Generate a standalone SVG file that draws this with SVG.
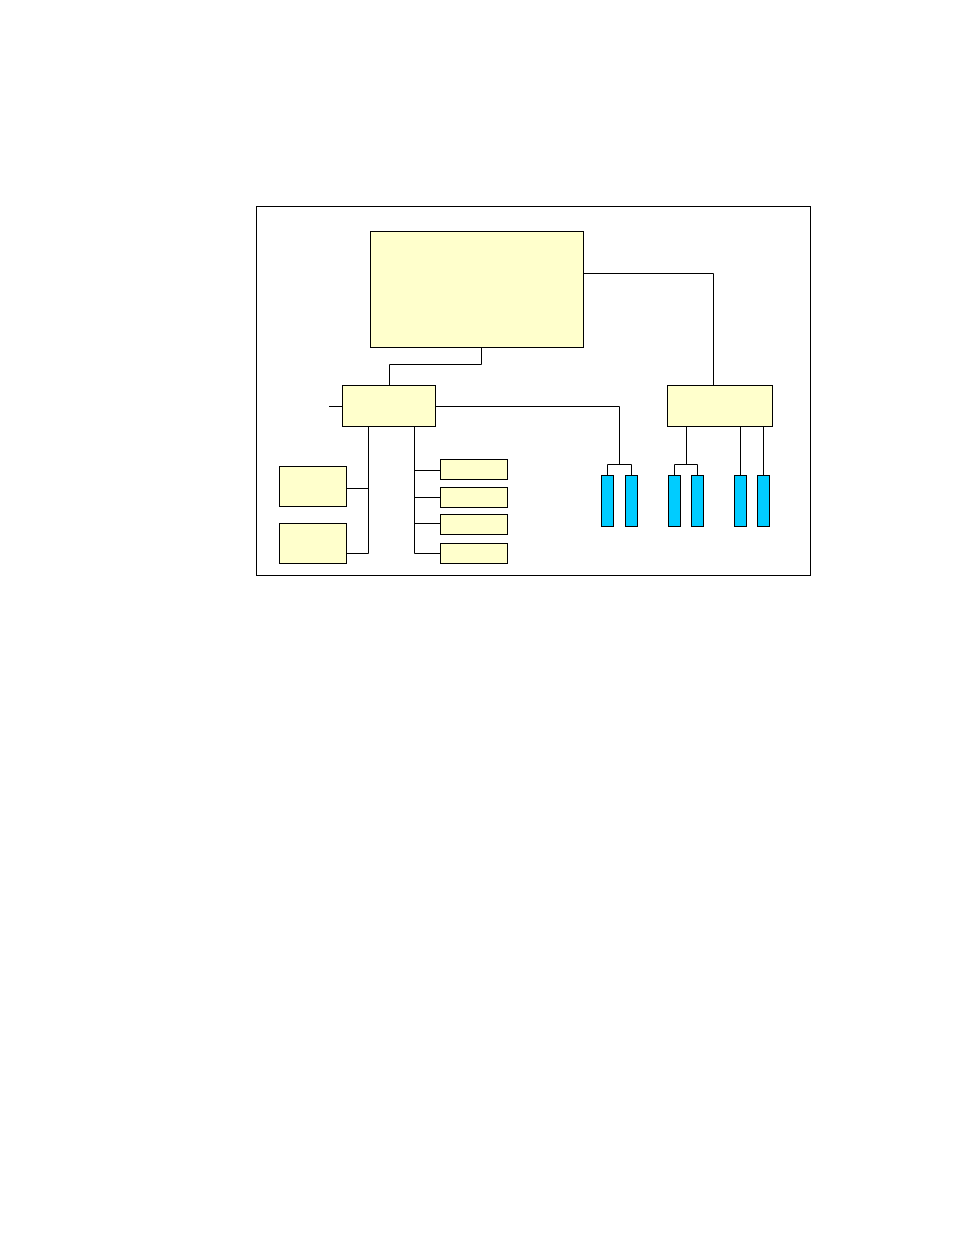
<svg xmlns="http://www.w3.org/2000/svg" width="954" height="1235" viewBox="0 0 954 1235">
<style>
.y{fill:#FFFFCC;stroke:#000;stroke-width:1}
.b{fill:#00CCFF;stroke:#000;stroke-width:1}
.c{fill:none;stroke:#000;stroke-width:1}
</style>
<rect width="954" height="1235" fill="#fff"/>
<rect id="frame" x="256.5" y="206.5" width="554" height="369" fill="none" stroke="#000" stroke-width="1"/>
<g id="connectors" class="c">
<polyline points="583,273.5 713.5,273.5 713.5,385"/>
<polyline points="481.5,347 481.5,364.5 389.5,364.5 389.5,385"/>
<line x1="329" y1="406.5" x2="342" y2="406.5"/>
<polyline points="435,406.5 619.5,406.5 619.5,464.5"/>
<polyline points="607.5,475 607.5,464.5 631.5,464.5 631.5,475"/>
<polyline points="368.5,426 368.5,553.5 346,553.5"/>
<line x1="346" y1="488.5" x2="368.5" y2="488.5"/>
<polyline points="414.5,426 414.5,553.5 440,553.5"/>
<line x1="414.5" y1="470.5" x2="440" y2="470.5"/>
<line x1="414.5" y1="497.5" x2="440" y2="497.5"/>
<line x1="414.5" y1="523.5" x2="440" y2="523.5"/>
<line x1="686.5" y1="426" x2="686.5" y2="464.5"/>
<polyline points="674.5,475 674.5,464.5 697.5,464.5 697.5,475"/>
<line x1="740.5" y1="426" x2="740.5" y2="475"/>
<line x1="763.5" y1="426" x2="763.5" y2="475"/>
</g>
<g id="main"><rect class="y" x="370.5" y="231.5" width="213" height="116"/></g>
<g id="hub"><rect class="y" x="342.5" y="385.5" width="93" height="41"/></g>
<g id="right-hub"><rect class="y" x="667.5" y="385.5" width="105" height="41"/></g>
<g id="left1"><rect class="y" x="279.5" y="466.5" width="67" height="40"/></g>
<g id="left2"><rect class="y" x="279.5" y="523.5" width="67" height="40"/></g>
<g id="s1"><rect class="y" x="440.5" y="459.5" width="67" height="20"/></g>
<g id="s2"><rect class="y" x="440.5" y="487.5" width="67" height="20"/></g>
<g id="s3"><rect class="y" x="440.5" y="514.5" width="67" height="20"/></g>
<g id="s4"><rect class="y" x="440.5" y="543.5" width="67" height="20"/></g>
<g id="d1"><rect class="b" x="601.5" y="475.5" width="12" height="51"/></g>
<g id="d2"><rect class="b" x="625.5" y="475.5" width="12" height="51"/></g>
<g id="d3"><rect class="b" x="668.5" y="475.5" width="12" height="51"/></g>
<g id="d4"><rect class="b" x="691.5" y="475.5" width="12" height="51"/></g>
<g id="d5"><rect class="b" x="734.5" y="475.5" width="12" height="51"/></g>
<g id="d6"><rect class="b" x="757.5" y="475.5" width="12" height="51"/></g>
</svg>
